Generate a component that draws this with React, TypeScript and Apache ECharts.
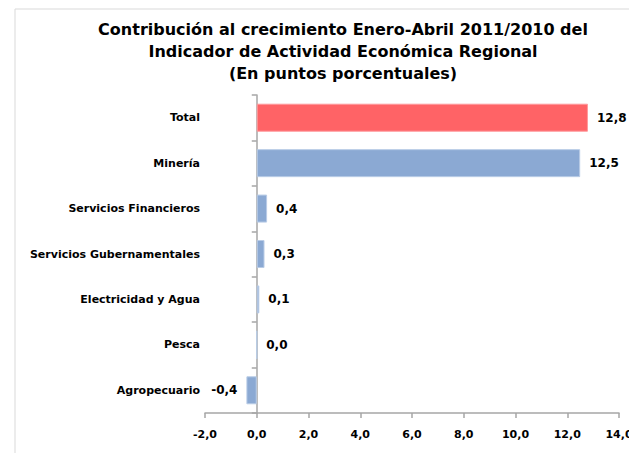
import React, { useEffect, useRef } from "react";
import * as echarts from "echarts";

const categories = [
  "Total",
  "Minería",
  "Servicios Financieros",
  "Servicios Gubernamentales",
  "Electricidad y Agua",
  "Pesca",
  "Agropecuario",
];
const values = [12.8, 12.5, 0.4, 0.3, 0.1, 0.0, -0.4];
const titleLines = [
  "Contribución al crecimiento Enero-Abril 2011/2010 del",
  "Indicador de Actividad Económica Regional",
  "(En puntos porcentuales)",
];
const xMin = -2;
const xMax = 14;
const xStep = 2;

const FONT = "DejaVu Sans";
const fmt = (v: number) => v.toFixed(1).replace(".", ",");

export default function App() {
  const ref = useRef<HTMLDivElement>(null);
  useEffect(() => {
    if (!ref.current) return;
    const chart = echarts.init(ref.current, undefined, { renderer: "svg" });
    const data = values.map((v, i) => ({
      value: v,
      itemStyle: {
        color: i === 0 ? "#FF6366" : "#8BA9D3",
        borderColor: i === 0 ? "#FF9A9C" : "#B9CCE6",
        borderWidth: 1,
      },
      label: {
        position: v < 0 ? "left" : "right",
      },
    }));
    chart.setOption({
      animation: false,
      backgroundColor: "#ffffff",
      title: {
        text: titleLines.join("\n"),
        left: 338,
        top: 13,
        textAlign: "center",
        textStyle: {
          fontFamily: FONT,
          fontWeight: "bold",
          fontSize: 16,
          lineHeight: 22,
          color: "#000",
        },
      },
      graphic: [
        {
          type: "rect",
          shape: { x: 15, y: 9, width: 700, height: 500 },
          style: { fill: "none", stroke: "#d9d9d9", lineWidth: 1 },
          silent: true,
          z: -10,
        },
      ],
      grid: {
        left: 205,
        right: 10,
        top: 95,
        bottom: 40,
        containLabel: false,
        outerBoundsMode: "none",
      },
      xAxis: {
        type: "value",
        min: xMin,
        max: xMax,
        interval: xStep,
        splitLine: { show: false },
        axisLine: { show: true, lineStyle: { color: "#a6a6a6", width: 1.5 } },
        axisTick: { show: true, length: 5, lineStyle: { color: "#a6a6a6", width: 1.5 } },
        axisLabel: {
          margin: 16,
          fontFamily: FONT,
          fontWeight: "bold",
          fontSize: 11,
          color: "#000",
          formatter: (v: number) => fmt(v),
        },
      },
      yAxis: {
        type: "category",
        data: categories,
        inverse: true,
        axisLine: { show: true, onZero: true, lineStyle: { color: "#a6a6a6", width: 1.5 } },
        axisTick: { show: true, length: 5, lineStyle: { color: "#a6a6a6", width: 1.5 } },
        axisLabel: {
          margin: 5,
          fontFamily: FONT,
          fontWeight: "bold",
          fontSize: 11,
          color: "#000",
        },
        splitLine: { show: false },
      },
      series: [
        {
          type: "bar",
          data,
          barWidth: 28,
          label: {
            show: true,
            distance: 9,
            fontFamily: FONT,
            fontWeight: "bold",
            fontSize: 12,
            color: "#000",
            formatter: (p: any) => fmt(p.value),
          },
        },
      ],
    });
    return () => chart.dispose();
  }, []);
  return <div ref={ref} style={{ width: 629, height: 453, position: "absolute", left: 0, top: 0 }} />;
}
